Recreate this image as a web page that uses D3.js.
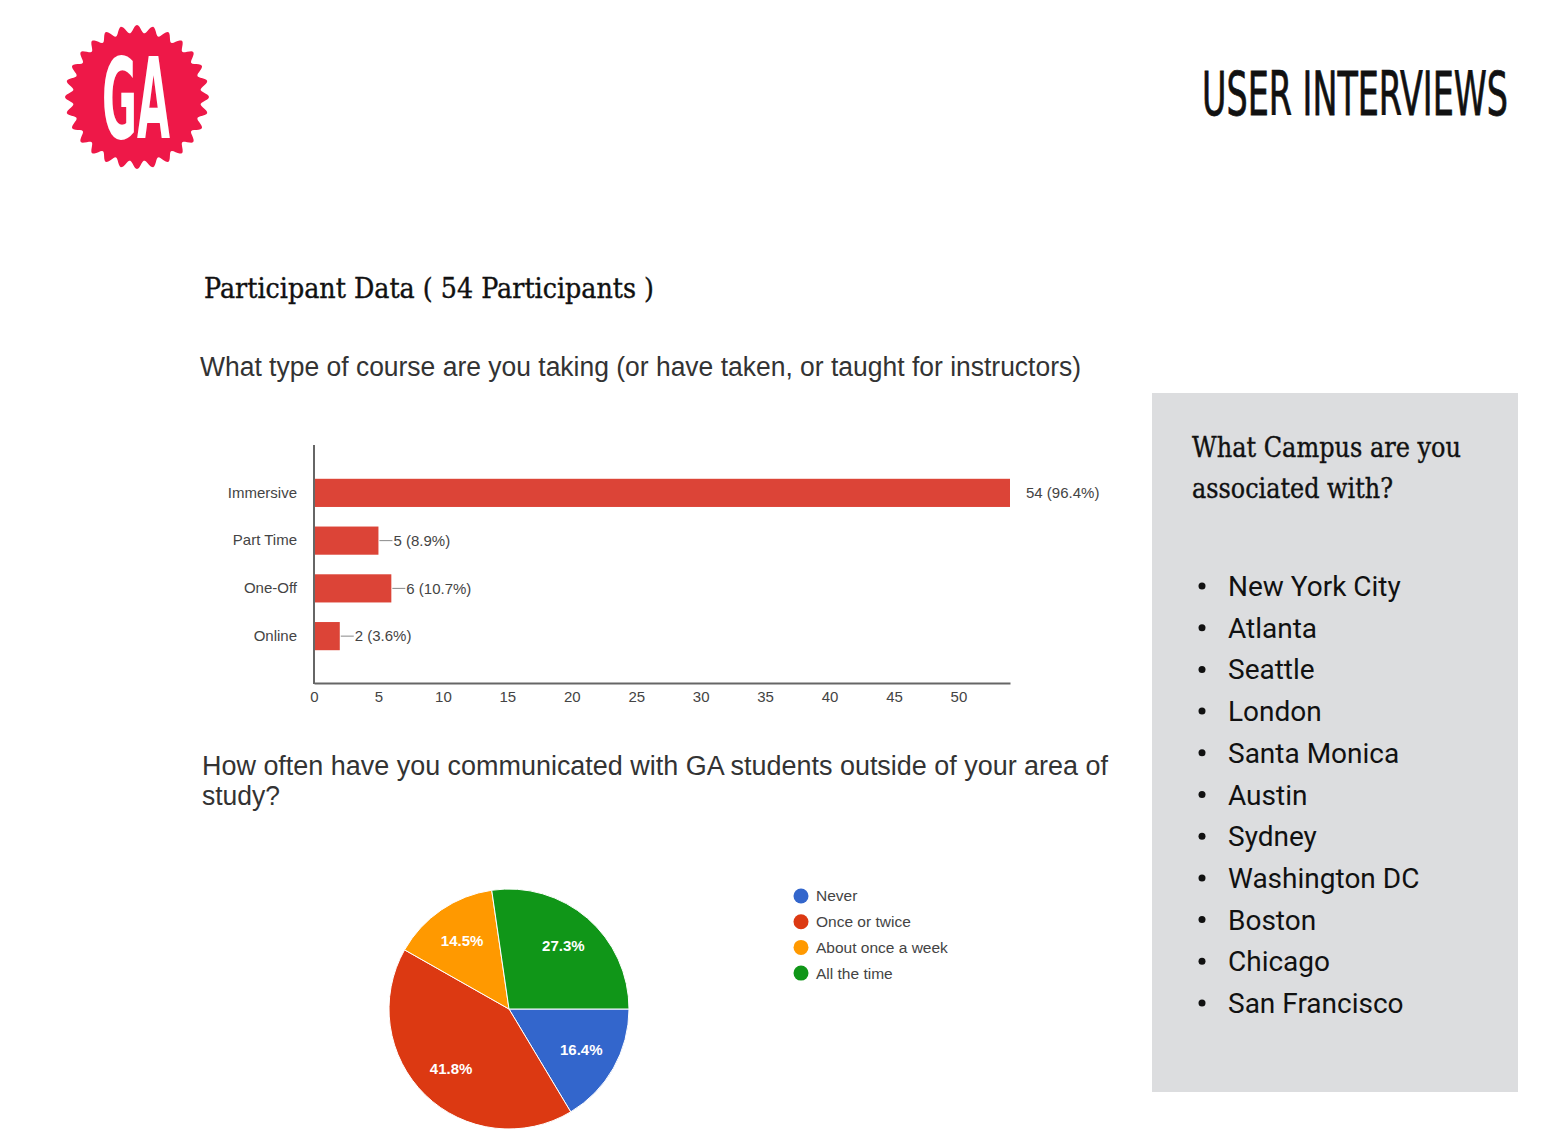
<!DOCTYPE html>
<html>
<head>
<meta charset="utf-8">
<script src="https://cdn.jsdelivr.net/npm/d3@7"></script>
<style>
  html, body { margin: 0; padding: 0; background: #fff; }
  svg { display: block; }
</style>
</head>
<body>
<svg id="slide" width="1562" height="1136"></svg>
<script>
// ---------------------------------------------------------------
// Data
// ---------------------------------------------------------------
const courseTypes = ["Immersive", "Part Time", "One-Off", "Online"];
const courseCounts = [54, 5, 6, 2];
const coursePct = ["96.4%", "8.9%", "10.7%", "3.6%"];
const courseTicks = [0, 5, 10, 15, 20, 25, 30, 35, 40, 45, 50];

const contactLabels = ["Never", "Once or twice", "About once a week", "All the time"];
const contactPct = [16.4, 41.8, 14.5, 27.3];
const contactColors = ["#3366cc", "#dc3912", "#ff9900", "#109618"];

const campuses = [
  "New York City", "Atlanta", "Seattle", "London", "Santa Monica", "Austin",
  "Sydney", "Washington DC", "Boston", "Chicago", "San Francisco"
];

const svg = d3.select("#slide");
const SANS = "'Liberation Sans', Arial, sans-serif";
const SERIF = "'DejaVu Serif', 'Liberation Serif', serif";
const NARROW = "'Liberation Sans Narrow', 'DejaVu Sans Condensed', sans-serif";

// squeeze/stretch a text horizontally to a target width (keeps glyph height)
function fitWidth(sel, width) {
  sel.attr("textLength", width).attr("lengthAdjust", "spacingAndGlyphs");
  return sel;
}

// ---------------------------------------------------------------
// Logo + header
// ---------------------------------------------------------------
function drawLogo() {
  const g = svg.append("g").attr("transform", "translate(137,97)");
  const teeth = 28;
  const pts = d3.range(0, 361).map(i => {
    const a = i / 360 * 2 * Math.PI;
    return [a, 68 + 4 * Math.cos(a * teeth)];
  });
  g.append("path")
    .attr("d", d3.lineRadial().curve(d3.curveLinearClosed)(pts))
    .attr("fill", "#ee1848");

  const ga = g.append("text")
    .attr("x", -35)
    .attr("y", 41)
    .attr("font-family", NARROW)
    .attr("font-weight", "bold")
    .attr("font-size", 112)
    .attr("fill", "#fff")
    .text("GA");
  fitWidth(ga, 68);
}
drawLogo();

// header: measure natural width, then scale the group horizontally
const headerG = svg.append("g");
const header = headerG.append("text")
  .attr("x", 0).attr("y", 0)
  .attr("text-anchor", "end")
  .attr("font-family", NARROW)
  .attr("font-size", 60)
  .attr("fill", "#111")
  .attr("stroke", "#111")
  .attr("stroke-width", 0.8)
  .text("USER INTERVIEWS");
const hw = header.node().getComputedTextLength();
headerG.attr("transform", `translate(1508,115) scale(${306 / hw},1)`);

const title = svg.append("text")
  .attr("x", 204).attr("y", 298)
  .attr("font-family", SERIF)
  .attr("font-size", 28)
  .attr("fill", "#111")
  .attr("stroke", "#111")
  .attr("stroke-width", 0.4)
  .text("Participant Data ( 54 Participants )");
fitWidth(title, 450);

// ---------------------------------------------------------------
// Bar chart: course type
// ---------------------------------------------------------------
const q1 = svg.append("text")
  .attr("x", 200).attr("y", 376)
  .attr("font-family", SANS)
  .attr("font-size", 27)
  .attr("fill", "#333")
  .text("What type of course are you taking (or have taken, or taught for instructors)");
fitWidth(q1, 881);

const courses = courseTypes.map((name, i) => ({ name, count: courseCounts[i], pct: coursePct[i] }));

const x = d3.scaleLinear().domain([0, 54]).range([314, 1010]);
const y = d3.scaleBand()
  .domain(courseTypes)
  .range([469, 660])
  .paddingInner(0.41)
  .paddingOuter(0.205);
const mid = d => y(d.name) + y.bandwidth() / 2;

const bars = svg.append("g");
bars.selectAll("rect")
  .data(courses)
  .join("rect")
  .attr("x", x(0))
  .attr("y", d => y(d.name))
  .attr("height", y.bandwidth())
  .attr("width", d => x(d.count) - x(0))
  .attr("fill", "#dc4437");

// leader lines only where the label sits close to a short bar
bars.selectAll("line")
  .data(courses.filter(d => d.count < 50))
  .join("line")
  .attr("x1", d => x(d.count) + 1)
  .attr("x2", d => x(d.count) + 14)
  .attr("y1", mid)
  .attr("y2", mid)
  .attr("stroke", "#888")
  .attr("stroke-width", 1);

bars.selectAll("text")
  .data(courses)
  .join("text")
  .attr("x", d => x(d.count) + (d.count < 50 ? 15 : 16))
  .attr("y", mid)
  .attr("dy", "0.35em")
  .attr("font-family", SANS)
  .attr("font-size", 15)
  .attr("fill", "#444")
  .text(d => `${d.count} (${d.pct})`);

const yAxis = svg.append("g")
  .attr("transform", `translate(${x(0)},0)`)
  .call(d3.axisLeft(y).tickSize(0).tickPadding(17));
yAxis.select(".domain").remove();
yAxis.selectAll("text")
  .attr("font-family", SANS)
  .attr("font-size", 15)
  .attr("fill", "#444");

svg.append("line")
  .attr("x1", x(0)).attr("x2", x(0))
  .attr("y1", 445).attr("y2", 684)
  .attr("stroke", "#666").attr("stroke-width", 2);

const xAxis = svg.append("g")
  .attr("transform", "translate(0,683)")
  .call(d3.axisBottom(x).tickValues(courseTicks).tickSize(0).tickPadding(8));
xAxis.select(".domain").attr("stroke", "#666").attr("stroke-width", 2);
xAxis.selectAll("text")
  .attr("font-family", SANS)
  .attr("font-size", 15)
  .attr("fill", "#444");

// ---------------------------------------------------------------
// Pie chart: contact frequency
// ---------------------------------------------------------------
const q2a = svg.append("text")
  .attr("x", 202).attr("y", 775)
  .attr("font-family", SANS)
  .attr("font-size", 27)
  .attr("fill", "#333")
  .text("How often have you communicated with GA students outside of your area of");
fitWidth(q2a, 906);
const q2b = svg.append("text")
  .attr("x", 202).attr("y", 805)
  .attr("font-family", SANS)
  .attr("font-size", 27)
  .attr("fill", "#333")
  .text("study?");
fitWidth(q2b, 78);

const R = 120;
const pie = d3.pie()
  .sort(null)
  .startAngle(Math.PI / 2)
  .endAngle(Math.PI / 2 + 2 * Math.PI);
const arcs = pie(contactPct);
const arc = d3.arc().innerRadius(0).outerRadius(R);
const labelArc = d3.arc().innerRadius(83).outerRadius(83);

const pg = svg.append("g").attr("transform", "translate(509,1009)");
pg.selectAll("path")
  .data(arcs)
  .join("path")
  .attr("d", arc)
  .attr("fill", (d, i) => contactColors[i])
  .attr("stroke", "#fff")
  .attr("stroke-width", 1);

pg.selectAll("text")
  .data(arcs)
  .join("text")
  .attr("transform", d => `translate(${labelArc.centroid(d)})`)
  .attr("text-anchor", "middle")
  .attr("dy", "0.35em")
  .attr("font-family", SANS)
  .attr("font-weight", "bold")
  .attr("font-size", 15)
  .attr("fill", "#fff")
  .text(d => d.data.toFixed(1) + "%");

const legend = svg.append("g").attr("transform", "translate(801,896)");
const li = legend.selectAll("g")
  .data(contactLabels)
  .join("g")
  .attr("transform", (d, i) => `translate(0,${i * 25.7})`);
li.append("circle")
  .attr("r", 7.5)
  .attr("fill", (d, i) => contactColors[i]);
li.append("text")
  .attr("x", 15)
  .attr("dy", "0.35em")
  .attr("font-family", SANS)
  .attr("font-size", 15.5)
  .attr("fill", "#444")
  .text(d => d);

// ---------------------------------------------------------------
// Campus panel
// ---------------------------------------------------------------
svg.append("rect")
  .attr("x", 1152).attr("y", 393)
  .attr("width", 366).attr("height", 699)
  .attr("fill", "#dcdddf");

const c1 = svg.append("text")
  .attr("x", 1192).attr("y", 457)
  .attr("font-family", SERIF)
  .attr("font-size", 27)
  .attr("fill", "#111")
  .attr("stroke", "#111")
  .attr("stroke-width", 0.4)
  .text("What Campus are you");
fitWidth(c1, 269);
const c2 = svg.append("text")
  .attr("x", 1192).attr("y", 498)
  .attr("font-family", SERIF)
  .attr("font-size", 27)
  .attr("fill", "#111")
  .attr("stroke", "#111")
  .attr("stroke-width", 0.4)
  .text("associated with?");
fitWidth(c2, 201);

const listY = d3.scalePoint().domain(campuses).range([596, 1013]);
const list = svg.append("g");
list.selectAll("circle")
  .data(campuses)
  .join("circle")
  .attr("cx", 1202)
  .attr("cy", d => listY(d) - 10)
  .attr("r", 3.5)
  .attr("fill", "#111");
list.selectAll("text")
  .data(campuses)
  .join("text")
  .attr("x", 1228)
  .attr("y", d => listY(d))
  .attr("font-family", "Roboto, 'Noto Sans', sans-serif")
  .attr("font-size", 28)
  .attr("fill", "#111")
  .text(d => d);
</script>
</body>
</html>
